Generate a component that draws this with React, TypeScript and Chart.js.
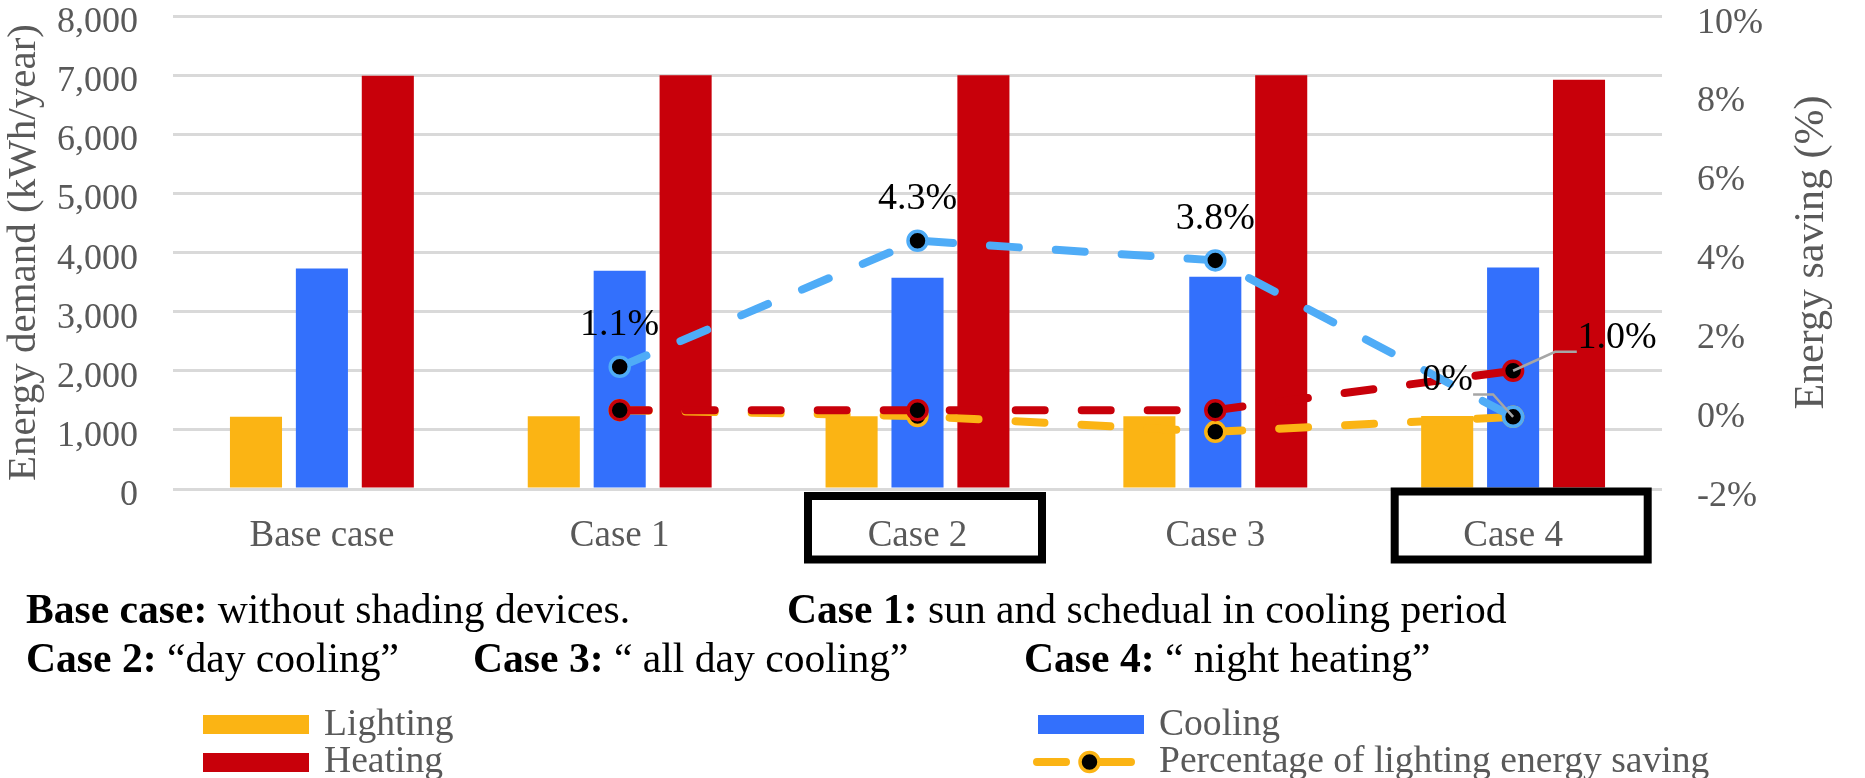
import React, { useEffect, useRef } from 'react';
import { Chart, registerables } from 'chart.js';

Chart.register(...registerables);

// ---------- data ----------
const categories = ['Base case', 'Case 1', 'Case 2', 'Case 3', 'Case 4'];
const lighting = [1220, 1230, 1230, 1230, 1235];
const cooling = [3730, 3690, 3575, 3590, 3745];
const heating = [6990, 7000, 7000, 7000, 6920];
const lightingSaving = [null, 0, -0.15, -0.55, -0.17];
const coolingSaving = [null, 1.1, 4.3, 3.8, -0.17];
const heatingSaving = [null, 0, 0, 0, 1.0];
const coolingSavingLabels = [null, '1.1%', '4.3%', '3.8%', '0%'];
const heatingSavingLabels = [null, null, null, null, '1.0%'];
const leftTickStep = 1000;
const rightTickStep = 2;
const highlightedCases = [2, 4];
const descriptionLine1 = [
  { bold: 'Base case:', text: ' without shading devices.' },
  { bold: 'Case 1:', text: ' sun and schedual in cooling period' },
];
const descriptionLine2 = [
  { bold: 'Case 2:', text: ' \u201cday cooling\u201d' },
  { bold: 'Case 3:', text: ' \u201c all day cooling\u201d' },
  { bold: 'Case 4:', text: ' \u201c night heating\u201d' },
];
const legendItems = ['Lighting', 'Cooling', 'Heating', 'Percentage of lighting energy saving'];

// ---------- styles ----------
const FONT = '"Liberation Serif", "Times New Roman", serif';
const C_LIGHT = '#FBB414';
const C_COOL = '#3370FC';
const C_HEAT = '#C8000A';
const C_COOL_LINE = '#4FACF7';
const C_HEAT_LINE = '#C8000A';
const GRAY_TEXT = '#595959';
const DASH = [29, 37];

const leftFmt = (v: number) => Number(v).toLocaleString('en-US');
const rightFmt = (v: number) => `${v}%`;

const boxStyles: Record<number, { l: number; r: number; t: number; b: number }> = {
  2: { l: -113.5, r: 128.5, t: 492, b: 563.5 },
  4: { l: -122.4, r: 138.6, t: 487.5, b: 563.5 },
};

const overlayPlugin = {
  id: 'overlay',
  beforeDatasetsDraw(chart: any) {
    const ctx: CanvasRenderingContext2D = chart.ctx;
    const ys = chart.scales.y;
    const ys1 = chart.scales.y1;
    ctx.save();
    ctx.font = `36px ${FONT}`;
    ctx.fillStyle = GRAY_TEXT;
    ctx.textBaseline = 'alphabetic';
    ctx.textAlign = 'right';
    ys.ticks.forEach((t: any) => {
      ctx.fillText(leftFmt(t.value), chart.chartArea.left - 35, ys.getPixelForValue(t.value) + 16);
    });
    ctx.textAlign = 'left';
    ys1.ticks.forEach((t: any) => {
      ctx.fillText(rightFmt(t.value), chart.chartArea.right + 35, ys1.getPixelForValue(t.value) + 16.5);
    });
    ctx.restore();
  },
  afterDraw(chart: any) {
    const ctx: CanvasRenderingContext2D = chart.ctx;
    const xs = chart.scales.x;
    ctx.save();

    // highlighted case boxes
    ctx.strokeStyle = '#000';
    ctx.lineWidth = 8;
    highlightedCases.forEach((i) => {
      const cx = xs.getPixelForValue(i);
      const s = boxStyles[i];
      ctx.strokeRect(cx + s.l + 4, s.t + 4, s.r - s.l - 8, s.b - s.t - 8);
    });

    // data labels
    const coolMeta = chart.getDatasetMeta(4);
    const heatMeta = chart.getDatasetMeta(5);
    ctx.font = `38px ${FONT}`;
    ctx.fillStyle = '#000';
    ctx.textAlign = 'center';
    ctx.textBaseline = 'middle';
    ctx.strokeStyle = '#A6A6A6';
    ctx.lineWidth = 2.5;
    coolingSavingLabels.forEach((lab, i) => {
      if (!lab) return;
      const p = coolMeta.data[i];
      if (i === 4) {
        ctx.beginPath();
        ctx.moveTo(p.x, p.y);
        ctx.lineTo(p.x - 20, p.y - 22.4);
        ctx.lineTo(p.x - 40, p.y - 22.4);
        ctx.stroke();
        ctx.fillText(lab, p.x - 65.5, p.y - 37);
      } else {
        ctx.fillText(lab, p.x, p.y - 41.5);
      }
    });
    heatingSavingLabels.forEach((lab, i) => {
      if (!lab) return;
      const p = heatMeta.data[i];
      ctx.beginPath();
      ctx.moveTo(p.x, p.y);
      ctx.lineTo(p.x + 42, p.y - 19);
      ctx.lineTo(p.x + 63.7, p.y - 19);
      ctx.stroke();
      ctx.fillText(lab, p.x + 104, p.y - 32.5);
    });

    // right axis title
    ctx.save();
    ctx.translate(1811.6, (chart.chartArea.top + chart.chartArea.bottom) / 2);
    ctx.rotate(-Math.PI / 2);
    ctx.font = `42px ${FONT}`;
    ctx.fillStyle = GRAY_TEXT;
    ctx.textAlign = 'center';
    ctx.textBaseline = 'middle';
    ctx.fillText('Energy saving (%)', 0, 0);
    ctx.restore();

    // descriptions
    const rich = (x: number, y: number, bold: string, text: string) => {
      ctx.textAlign = 'left';
      ctx.textBaseline = 'alphabetic';
      ctx.fillStyle = '#000';
      ctx.font = `bold 41.6px ${FONT}`;
      ctx.fillText(bold, x, y);
      const w = ctx.measureText(bold).width;
      ctx.font = `41.6px ${FONT}`;
      ctx.fillText(text, x + w, y);
    };
    const line1X = [26, 787];
    const line2X = [26, 473, 1024];
    descriptionLine1.forEach((d, i) => rich(line1X[i], 623, d.bold, d.text));
    descriptionLine2.forEach((d, i) => rich(line2X[i], 672, d.bold, d.text));

    // legend
    ctx.fillStyle = C_LIGHT;
    ctx.fillRect(203, 715, 106, 19);
    ctx.fillStyle = C_COOL;
    ctx.fillRect(1038, 715, 106, 19);
    ctx.fillStyle = C_HEAT;
    ctx.fillRect(203, 753, 106, 19);
    ctx.strokeStyle = C_LIGHT;
    ctx.lineWidth = 8;
    ctx.lineCap = 'round';
    ctx.beginPath();
    ctx.moveTo(1037, 762);
    ctx.lineTo(1066, 762);
    ctx.moveTo(1095, 762);
    ctx.lineTo(1131, 762);
    ctx.stroke();
    ctx.beginPath();
    ctx.arc(1089.5, 762, 9.5, 0, Math.PI * 2);
    ctx.fillStyle = '#000';
    ctx.fill();
    ctx.lineWidth = 3.5;
    ctx.stroke();
    ctx.font = `37.6px ${FONT}`;
    ctx.fillStyle = GRAY_TEXT;
    ctx.textAlign = 'left';
    ctx.textBaseline = 'alphabetic';
    ctx.fillText(legendItems[0], 324, 735);
    ctx.fillText(legendItems[1], 1159, 735);
    ctx.fillText(legendItems[2], 324, 772);
    ctx.fillText(legendItems[3], 1159, 772);

    ctx.restore();
  },
};

export default function App() {
  const ref = useRef<HTMLCanvasElement | null>(null);

  useEffect(() => {
    if (!ref.current) return;
    const lineDs = (label: string, data: (number | null)[], color: string, order: number) => ({
      type: 'line' as const,
      label,
      data,
      yAxisID: 'y1',
      borderColor: color,
      backgroundColor: color,
      borderWidth: 8,
      borderDash: DASH,
      borderCapStyle: 'round' as const,
      borderJoinStyle: 'round' as const,
      pointRadius: 9.5,
      pointBorderWidth: 3.5,
      pointBackgroundColor: '#000',
      pointBorderColor: color,
      tension: 0,
      fill: false,
      spanGaps: false,
      order,
    });
    const chart = new Chart(ref.current, {
      type: 'bar',
      data: {
        labels: categories,
        datasets: [
          { type: 'bar', label: 'Lighting', data: lighting, backgroundColor: C_LIGHT, yAxisID: 'y', order: 10, categoryPercentage: 0.664, barPercentage: 0.79 },
          { type: 'bar', label: 'Cooling', data: cooling, backgroundColor: C_COOL, yAxisID: 'y', order: 10, categoryPercentage: 0.664, barPercentage: 0.79 },
          { type: 'bar', label: 'Heating', data: heating, backgroundColor: C_HEAT, yAxisID: 'y', order: 10, categoryPercentage: 0.664, barPercentage: 0.79 },
          lineDs('Percentage of lighting energy saving', lightingSaving, C_LIGHT, 3),
          lineDs('Percentage of cooling energy saving', coolingSaving, C_COOL_LINE, 1),
          lineDs('Percentage of heating energy saving', heatingSaving, C_HEAT_LINE, 2),
        ] as any,
      },
      options: {
        responsive: false,
        animation: false,
        devicePixelRatio: 1,
        layout: { padding: { top: 16, left: 0, right: 0, bottom: 0 } },
        plugins: { legend: { display: false }, tooltip: { enabled: false } },
        scales: {
          x: {
            grid: { display: false, drawTicks: false },
            border: { display: false },
            ticks: { color: GRAY_TEXT, font: { family: FONT, size: 37 }, padding: 25.5 },
            afterFit: (s: any) => { s.height = 289; s.paddingLeft = 0; s.paddingRight = 0; },
          },
          y: {
            position: 'left',
            min: 0,
            max: 8000,
            ticks: { stepSize: leftTickStep, display: false, callback: (v: any) => leftFmt(v) },
            grid: { color: '#D9D9D9', lineWidth: 3, drawTicks: false },
            border: { display: false },
            title: {
              display: true,
              text: 'Energy demand (kWh/year)',
              color: GRAY_TEXT,
              font: { family: FONT, size: 41, lineHeight: 1.17 },
              padding: 0,
            },
            afterFit: (s: any) => { s.width = 173; s.paddingTop = 0; s.paddingBottom = 0; },
          },
          y1: {
            position: 'right',
            min: -2,
            max: 10,
            ticks: { stepSize: rightTickStep, display: false, callback: (v: any) => rightFmt(v) },
            grid: { display: false, drawTicks: false },
            border: { display: false },
            afterFit: (s: any) => { s.width = 203; s.paddingTop = 0; s.paddingBottom = 0; },
          },
        },
      } as any,
      plugins: [overlayPlugin],
    });
    return () => chart.destroy();
  }, []);

  return (
    <div style={{ position: 'absolute', left: 0, top: 0, width: 1865, height: 778, background: '#fff' }}>
      <canvas ref={ref} width={1865} height={778} style={{ display: 'block' }} />
    </div>
  );
}
